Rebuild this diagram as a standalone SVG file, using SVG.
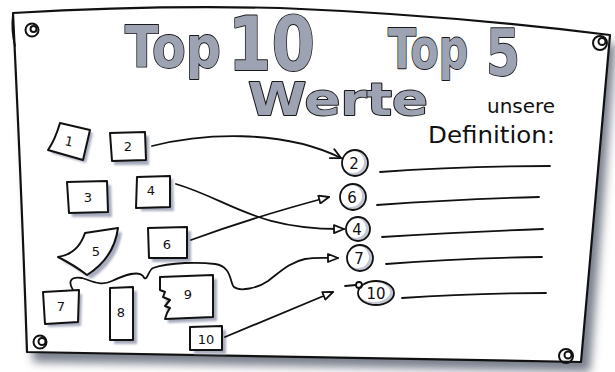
<svg xmlns="http://www.w3.org/2000/svg" width="615" height="372" viewBox="0 0 615 372">
<defs>
<filter id="blur" x="-10%" y="-10%" width="130%" height="130%"><feGaussianBlur stdDeviation="5"/></filter>
<filter id="sblur"><feGaussianBlur stdDeviation="1.2"/></filter>
<marker id="tri" viewBox="0 0 12 10" refX="11" refY="5" markerWidth="12" markerHeight="10" markerUnits="userSpaceOnUse" orient="auto">
<path d="M1,1 L11,5 L1,9 Z" fill="#fff" stroke="#111" stroke-width="1.8" stroke-linejoin="round"/>
</marker>
<marker id="chev" viewBox="0 0 12 12" refX="11" refY="6" markerWidth="12" markerHeight="12" markerUnits="userSpaceOnUse" orient="auto">
<path d="M1,1 L11,6 L1,11" fill="none" stroke="#111" stroke-width="1.8" stroke-linecap="round" stroke-linejoin="round"/>
</marker>
</defs>
<style>
.ln{fill:none;stroke:#111;stroke-width:1.8;stroke-linecap:round;stroke-linejoin:round}
.card{fill:#fff;stroke:#111;stroke-width:2;stroke-linejoin:round}
.sh{fill:#a7acbd;filter:url(#sblur)}
.lbl{font-family:"DejaVu Sans",sans-serif;font-size:13px;fill:#111;text-anchor:middle}
.big{font-family:"DejaVu Sans",sans-serif;font-weight:bold;fill:#9ea3b4;stroke:#1a1a1a;stroke-width:1.8;paint-order:stroke;stroke-linejoin:round}
.hand{font-family:"DejaVu Sans",sans-serif;fill:#111}
.pin{fill:none;stroke:#111;stroke-width:2}
.cnum{font-family:"DejaVu Sans",sans-serif;font-size:15px;fill:#111;text-anchor:middle}
</style>
<rect width="615" height="372" fill="#fff"/>
<!-- board shadow -->
<path d="M20,22 Q150,14 285,17 Q450,24 616,44 L590,372 Q300,366 33,362 Z" fill="#4d5466" opacity="0.75" filter="url(#blur)"/>
<g id="board">
<path d="M13,13 Q150,5 280,8 Q450,15 610,35 L581,362 Q300,356 27,352 Q22,200 13,13 Z" fill="#fff" stroke="#111" stroke-width="2.2" stroke-linejoin="round"/>
<path d="M13,14 Q11,30 15,46" class="ln" stroke-width="1.5"/>
</g>
<g id="pins">
<circle cx="32" cy="30" r="6.5" class="pin"/><circle cx="33.5" cy="29" r="3" class="pin" stroke-width="1.5"/>
<circle cx="600" cy="43" r="7" class="pin"/><circle cx="602" cy="41.5" r="3.5" class="pin" stroke-width="1.5"/>
<circle cx="40" cy="342" r="6.5" class="pin"/><circle cx="42" cy="341.5" r="3.5" class="pin" stroke-width="1.5"/>
<circle cx="566" cy="356" r="7" class="pin"/><circle cx="568" cy="355" r="3.5" class="pin" stroke-width="1.5"/>
</g>
<g id="title">
<text class="big"><tspan x="125" y="67" font-size="57" textLength="96" lengthAdjust="spacingAndGlyphs">Top</tspan> <tspan x="228" y="70" font-size="75" textLength="87" lengthAdjust="spacingAndGlyphs">10</tspan></text>
<text class="big"><tspan x="388" y="68" font-size="55" textLength="80" lengthAdjust="spacingAndGlyphs">Top</tspan> <tspan x="486" y="75" font-size="64" textLength="34" lengthAdjust="spacingAndGlyphs">5</tspan></text>
<text x="248" y="115" class="big" font-size="45" textLength="180" lengthAdjust="spacingAndGlyphs">Werte</text>
</g>
<g id="subtitle">
<text x="487" y="113" class="hand" font-size="20" textLength="68" lengthAdjust="spacingAndGlyphs">unsere</text>
<text x="428" y="143" class="hand" font-size="23" textLength="127" lengthAdjust="spacingAndGlyphs">Definition:</text>
</g>
<g id="card1"><path d="M64,126 L93,133 L86,163 L51,153 Z" class="sh"/><path d="M60,123 L90,130 L83,160 L48,150 Q55,140 60,123 Z" class="card"/><text x="69" y="146" class="lbl" transform="rotate(12 69 141)">1</text></g>
<g id="card2"><path d="M114,137 L149,136 L149,165 L114,165 Z" class="sh"/><path d="M110,133 L145,132 L146,160 L112,161 Z" class="card"/><text x="128" y="151" class="lbl">2</text></g>
<g id="card3"><path d="M71,186 L111,185 L112,217 L72,217 Z" class="sh"/><path d="M67,182 L107,181 L108,212 L69,213 Z" class="card"/><text x="88" y="202" class="lbl">3</text></g>
<g id="card4"><path d="M141,180 L173,179 L174,211 L141,211 Z" class="sh"/><path d="M137,177 L170,176 L170,207 L136,208 Z" class="card"/><text x="151" y="195" class="lbl">4</text></g>
<g id="card5"><path d="M62,261 Q82,258 89,238 L122,232 Q118,262 91,279 Q78,269 62,261 Z" class="sh"/><path d="M58,257 Q78,254 85,233 L118,228 Q114,258 87,275 Q74,265 58,257 Z" class="card"/><text x="96" y="256" class="lbl">5</text></g>
<g id="card6"><path d="M152,232 L191,231 L191,262 L152,262 Z" class="sh"/><path d="M148,228 L187,227 L187,258 L149,258 Z" class="card"/><text x="167" y="249" class="lbl">6</text></g>
<g id="card7"><path d="M47,296 L82,294 L81,326 L48,327 Z" class="sh"/><path d="M43,292 L79,290 L78,322 L45,324 Z" class="card"/><text x="61" y="311" class="lbl">7</text></g>
<g id="card8"><path d="M114,292 L137,291 L137,344 L114,344 Z" class="sh"/><path d="M110,288 L133,287 L133,340 L110,340 Z" class="card"/><text x="121" y="317" class="lbl">8</text></g>
<g id="card9"><path d="M164,281 L217,279 L217,321 L168,323 Z" class="sh"/><path d="M160,277 L213,275 L213,317 L165,319 L167,313 L170,308 L165,306 L170,300 L163,297 L165,292 L160,290 Z" class="card"/><text x="188" y="299" class="lbl">9</text></g>
<g id="card10"><path d="M194,331 L226,330 L226,354 L194,354 Z" class="sh"/><path d="M190,327 L222,326 L222,350 L190,350 Z" class="card"/><text x="206" y="344" class="lbl">10</text></g>
<g id="top5">
<g id="c2"><circle cx="355" cy="163" r="13" fill="#c3c7d3"/><circle cx="353" cy="162" r="11" fill="#fff"/><circle cx="355" cy="163" r="13" class="ln" stroke-width="2"/><text x="354" y="169" class="cnum">2</text></g>
<g id="c6"><circle cx="353" cy="197" r="13" fill="#c3c7d3"/><circle cx="351" cy="196" r="11" fill="#fff"/><circle cx="353" cy="197" r="13" class="ln" stroke-width="2"/><text x="352" y="203" class="cnum">6</text></g>
<g id="c4"><circle cx="358" cy="229" r="12" fill="#c3c7d3"/><circle cx="356" cy="228" r="10" fill="#fff"/><circle cx="358" cy="229" r="12" class="ln" stroke-width="2"/><text x="357" y="235" class="cnum">4</text></g>
<g id="c7"><circle cx="360" cy="258" r="13" fill="#c3c7d3"/><circle cx="358" cy="257" r="11" fill="#fff"/><circle cx="360" cy="258" r="13" class="ln" stroke-width="2"/><text x="359" y="264" class="cnum">7</text></g>
<g id="c10"><ellipse cx="376" cy="293" rx="18" ry="12" fill="#c3c7d3"/><ellipse cx="374" cy="292" rx="16" ry="10" fill="#fff"/><ellipse cx="376" cy="293" rx="18" ry="12" class="ln" stroke-width="2"/><text x="376" y="299" class="cnum">10</text><path d="M345,286 L356,285" class="ln"/><circle cx="359" cy="285" r="3" class="ln"/></g>
</g>
<g id="lines">
<path d="M380,172 Q460,166 550,166" class="ln"/>
<path d="M377,205 Q460,199 539,197" class="ln"/>
<path d="M382,237 Q460,232 543,229" class="ln"/>
<path d="M386,264 Q460,258 542,257" class="ln"/>
<path d="M402,298 Q470,293 546,293" class="ln"/>
</g>
<g id="connectors">
<path d="M152,146 C200,134 280,128 341,158" class="ln" marker-end="url(#chev)"/>
<path d="M191,240 C240,222 280,210 329,197" class="ln" marker-end="url(#tri)"/>
<path d="M176,184 C230,200 255,230 344,229" class="ln" marker-end="url(#tri)"/>
<path d="M73,290 C68,282 70,276 82,278 C90,280 100,287 112,281 C125,275 138,270 143,276 C147,284 148,270 153,268 C170,262 200,262 215,264 C232,266 230,284 234,287 C240,292 258,288 268,281 C280,272 290,262 305,259 C315,257 325,258 338,258" class="ln" marker-end="url(#tri)"/>
<path d="M225,337 L333,292" class="ln" marker-end="url(#tri)"/>
</g>
</svg>
